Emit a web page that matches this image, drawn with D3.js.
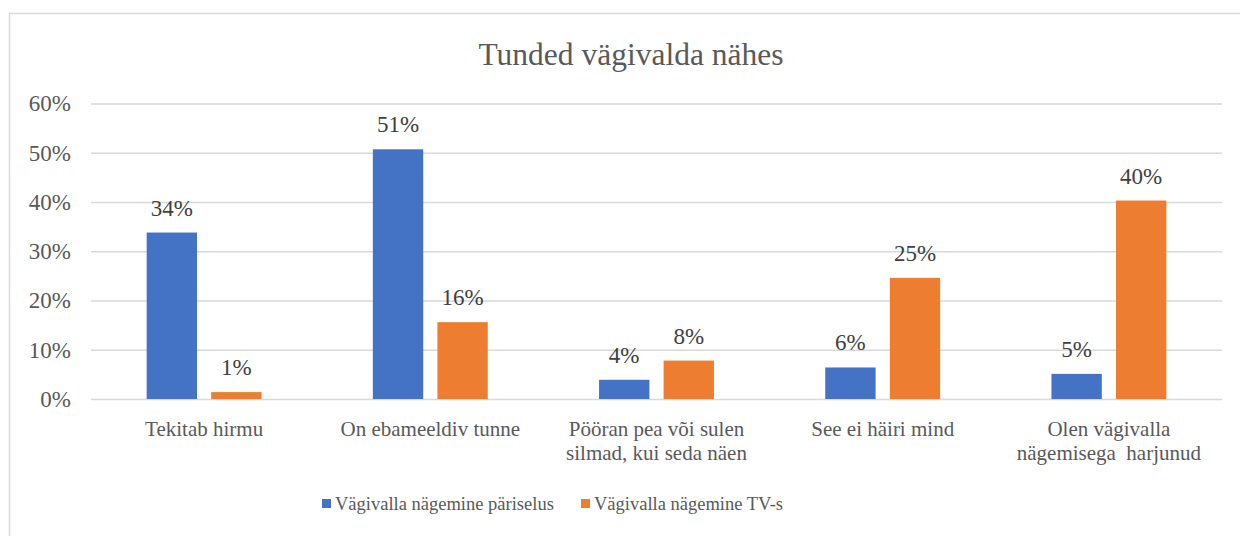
<!DOCTYPE html>
<html>
<head>
<meta charset="utf-8">
<script src="https://d3js.org/d3.v7.min.js"></script>
<style>
	body { margin: 0; background: #fff; }
	svg { display: block; }
	svg text { font-family: "Liberation Serif", "Times New Roman", serif !important; }
</style>
</head>
<body>
<svg id="chart" width="1240" height="536"></svg>
<script>
const categories = [
	["Tekitab hirmu"],
	["On ebameeldiv tunne"],
	["Pööran pea või sulen", "silmad, kui seda näen"],
	["See ei häiri mind"],
	["Olen vägivalla", "nägemisega  harjunud"]
];
const seriesNames = ["Vägivalla nägemine päriselus", "Vägivalla nägemine TV-s"];
const pariselus = [0.338, 0.507, 0.039, 0.064, 0.051];
const televisioon = [0.014, 0.156, 0.078, 0.246, 0.403];
const yTicks = [0, 0.1, 0.2, 0.3, 0.4, 0.5, 0.6];
const colors = ["#4472C4", "#ED7D31"];

const svg = d3.select("#chart");

// outer chart border (right/bottom edges fall outside the picture)
svg.append("rect")
	.attr("x", 9.5).attr("y", 13.5)
	.attr("width", 1240).attr("height", 540)
	.attr("fill", "none")
	.attr("stroke", "#d9d9d9")
	.attr("stroke-width", 1.5);

svg.append("text")
	.attr("x", 631).attr("y", 65)
	.attr("text-anchor", "middle")
	.attr("fill", "#595959")
	.style("font-size", "31.5px")
	.text("Tunded vägivalda nähes");

const keys = categories.map((c, i) => "c" + i);
const rows = keys.map((k, i) => ({ key: k, values: [pariselus[i], televisioon[i]] }));

const x0 = d3.scaleBand().domain(keys).range([91, 1222]).paddingInner(0.492).paddingOuter(0.246);
const x1 = d3.scaleBand().domain([0, 1]).range([0, x0.bandwidth()]).paddingInner(0.22);
const y = d3.scaleLinear().domain([0, 0.6]).range([399, 103.5]);
const pct = d3.format(".0%");

// gridlines + y tick labels
const yAxis = d3.axisLeft(y).tickValues(yTicks).tickFormat(pct).tickSize(-(1222 - 91)).tickPadding(20);
const gy = svg.append("g").attr("transform", "translate(91,0)").call(yAxis);
gy.attr("font-family", null).attr("font-size", null);
gy.select(".domain").remove();
gy.selectAll(".tick line").attr("stroke", "#d9d9d9").attr("stroke-width", 1.5);
gy.selectAll(".tick text")
	.attr("fill", "#595959")
	.style("font-size", "23px");

// bars
const groups = svg.append("g").selectAll("g")
	.data(rows)
	.enter().append("g")
	.attr("transform", d => "translate(" + x0(d.key) + ",0)");

groups.selectAll("rect")
	.data(d => d.values.map((v, j) => ({ j: j, v: v })))
	.enter().append("rect")
	.attr("x", d => x1(d.j))
	.attr("y", d => y(d.v))
	.attr("width", x1.bandwidth())
	.attr("height", d => y(0) - y(d.v))
	.attr("fill", d => colors[d.j]);

groups.selectAll("text.lbl")
	.data(d => d.values.map((v, j) => ({ j: j, v: v })))
	.enter().append("text")
	.attr("class", "lbl")
	.attr("x", d => x1(d.j) + x1.bandwidth() / 2)
	.attr("y", d => y(d.v) - 17)
	.attr("text-anchor", "middle")
	.attr("fill", "#404040")
	.style("font-size", "23px")
	.text(d => pct(d.v));

// category labels
const cat = svg.append("g").selectAll("text")
	.data(categories)
	.enter().append("text")
	.attr("x", (d, i) => x0(keys[i]) + x0.bandwidth() / 2)
	.attr("y", 436)
	.attr("text-anchor", "middle")
	.attr("fill", "#595959")
	.style("font-size", "21px");
cat.selectAll("tspan")
	.data(d => d)
	.enter().append("tspan")
	.attr("x", function () { return d3.select(this.parentNode).attr("x"); })
	.attr("dy", (d, i) => i === 0 ? 0 : 24)
	.style("white-space", "pre")
	.text(d => d);

// legend
const legendX = [322, 581];
const legend = svg.append("g").selectAll("g")
	.data(seriesNames)
	.enter().append("g")
	.attr("transform", (d, i) => "translate(" + legendX[i] + ",0)");
legend.append("rect")
	.attr("x", 0).attr("y", 499)
	.attr("width", 9).attr("height", 9)
	.attr("fill", (d, i) => colors[i]);
legend.append("text")
	.attr("x", 13).attr("y", 510)
	.attr("fill", "#595959")
	.style("font-size", "18.5px")
	.text(d => d);
</script>
</body>
</html>
